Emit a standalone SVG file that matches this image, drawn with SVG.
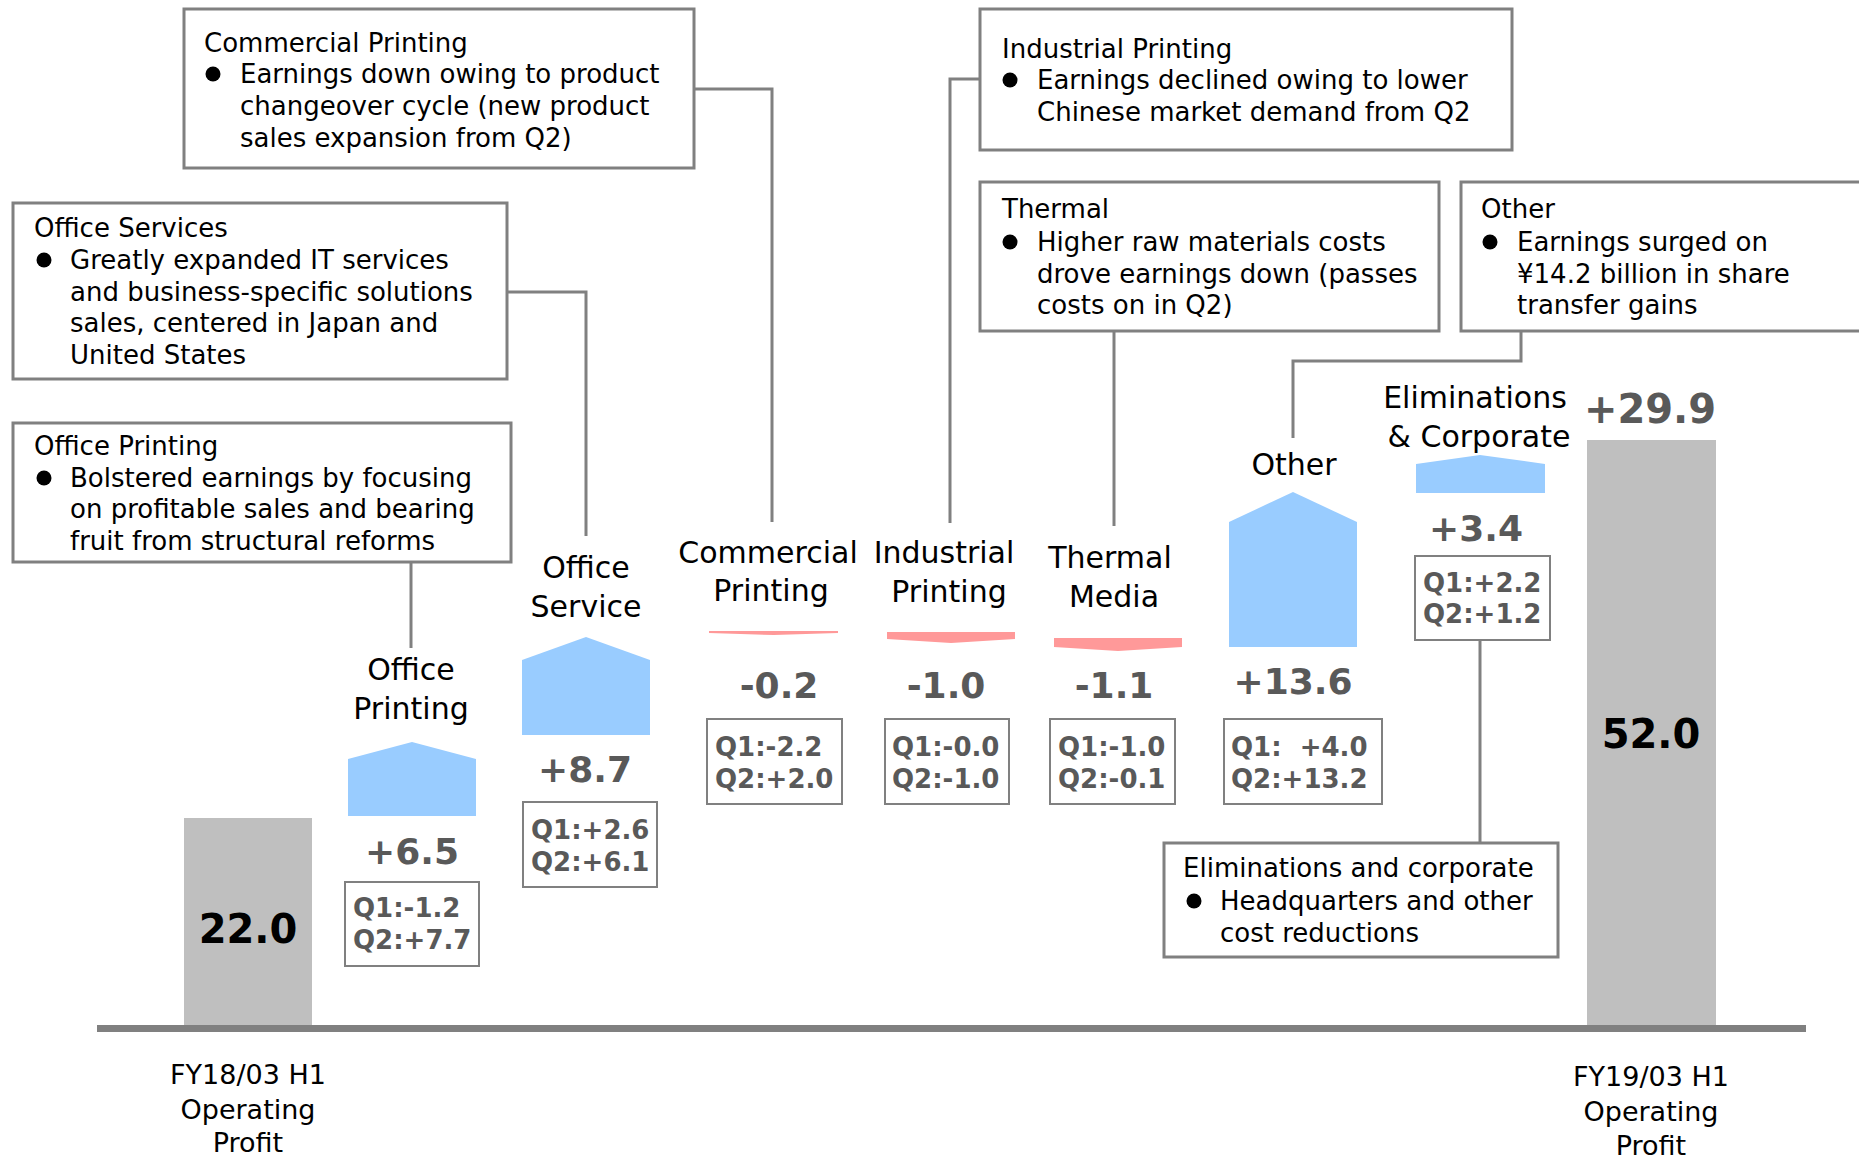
<svg xmlns="http://www.w3.org/2000/svg" width="1859" height="1158" viewBox="0 0 1859 1158">
<style>
.note{fill:#fff;stroke:#808080;stroke-width:3}
.qbox{fill:#fff;stroke:#808080;stroke-width:2}
.nt{font-family:"DejaVu Sans",Verdana,sans-serif;font-size:26px;fill:#000}
.cat{font-family:"DejaVu Sans",Verdana,sans-serif;font-size:30px;fill:#000;text-anchor:middle}
.val{font-family:"DejaVu Sans",Verdana,sans-serif;font-size:36px;font-weight:bold;fill:#595959;text-anchor:middle}
.big{font-family:"DejaVu Sans",Verdana,sans-serif;font-size:40px;font-weight:bold;fill:#000;text-anchor:middle}
.q{font-family:"DejaVu Sans",Verdana,sans-serif;font-size:26px;font-weight:bold;fill:#595959}
.ax{font-family:"DejaVu Sans",Verdana,sans-serif;font-size:27px;fill:#000;text-anchor:middle}
.up{fill:#99CCFF}
.down{fill:#FF9999}
.tot{fill:#BFBFBF}
.con{fill:none;stroke:#808080;stroke-width:3}
.bul{fill:#000}
</style>

<g id="connectors">
<polyline class="con" points="694,89 772,89 772,522"/>
<polyline class="con" points="507,292 586,292 586,536"/>
<polyline class="con" points="411,562 411,648"/>
<polyline class="con" points="980,79 950,79 950,523"/>
<polyline class="con" points="1114,331 1114,526"/>
<polyline class="con" points="1521,331 1521,361 1293,361 1293,438"/>
<polyline class="con" points="1480,640 1480,843"/>
</g>

<g id="axis">
<rect class="tot" x="184" y="818" width="128" height="214"/>
<rect class="tot" x="1587" y="440" width="129" height="588"/>
<rect x="97" y="1025" width="1709" height="7" fill="#808080"/>
</g>

<g id="fy18">
<text class="big" x="248" y="943">22.0</text>
<text class="ax" x="248" y="1084">FY18/03 H1</text>
<text class="ax" x="248" y="1119">Operating</text>
<text class="ax" x="248" y="1152">Profit</text>
</g>

<g id="office-printing">
<polygon class="up" points="348,759 412,742 476,759 476,816 348,816"/>
<text class="cat" x="411" y="680">Office</text>
<text class="cat" x="411" y="719">Printing</text>
<text class="val" x="412" y="864">+6.5</text>
<rect class="qbox" x="345" y="882" width="134" height="84"/>
<text class="q" x="353" y="917">Q1:-1.2</text>
<text class="q" x="353" y="949">Q2:+7.7</text>
</g>

<g id="office-service">
<polygon class="up" points="522,660 586,637 650,660 650,735 522,735"/>
<text class="cat" x="586" y="578">Office</text>
<text class="cat" x="586" y="617">Service</text>
<text class="val" x="585" y="782">+8.7</text>
<rect class="qbox" x="523" y="802" width="134" height="85"/>
<text class="q" x="531" y="839">Q1:+2.6</text>
<text class="q" x="531" y="871">Q2:+6.1</text>
</g>

<g id="commercial-printing">
<polygon class="down" points="709,631 838,631 838,633 774,635 709,633"/>
<text class="cat" x="768" y="563">Commercial</text>
<text class="cat" x="771" y="601">Printing</text>
<text class="val" x="779" y="698">-0.2</text>
<rect class="qbox" x="707" y="719" width="135" height="85"/>
<text class="q" x="715" y="756">Q1:-2.2</text>
<text class="q" x="715" y="788">Q2:+2.0</text>
</g>

<g id="industrial-printing">
<polygon class="down" points="887,632 1015,632 1015,639 951,643 887,639"/>
<text class="cat" x="944" y="563">Industrial</text>
<text class="cat" x="949" y="602">Printing</text>
<text class="val" x="946" y="698">-1.0</text>
<rect class="qbox" x="885" y="719" width="124" height="85"/>
<text class="q" x="892" y="756">Q1:-0.0</text>
<text class="q" x="892" y="788">Q2:-1.0</text>
</g>

<g id="thermal-media">
<polygon class="down" points="1054,638 1182,638 1182,647 1118,651 1054,647"/>
<text class="cat" x="1110" y="568">Thermal</text>
<text class="cat" x="1114" y="607">Media</text>
<text class="val" x="1114" y="698">-1.1</text>
<rect class="qbox" x="1050" y="719" width="125" height="85"/>
<text class="q" x="1058" y="756">Q1:-1.0</text>
<text class="q" x="1058" y="788">Q2:-0.1</text>
</g>

<g id="other">
<polygon class="up" points="1229,522 1293,492 1357,522 1357,647 1229,647"/>
<text class="cat" x="1294" y="475">Other</text>
<text class="val" x="1293" y="694">+13.6</text>
<rect class="qbox" x="1224" y="719" width="158" height="85"/>
<text class="q" x="1231" y="756" xml:space="preserve">Q1:  +4.0</text>
<text class="q" x="1231" y="788">Q2:+13.2</text>
</g>

<g id="eliminations">
<polygon class="up" points="1416,464 1480,455 1545,464 1545,493 1416,493"/>
<text class="cat" x="1475" y="408">Eliminations</text>
<text class="cat" x="1479" y="447">&amp; Corporate</text>
<text class="val" x="1476" y="541">+3.4</text>
<rect class="qbox" x="1415" y="556" width="135" height="84"/>
<text class="q" x="1423" y="592">Q1:+2.2</text>
<text class="q" x="1423" y="623">Q2:+1.2</text>
</g>

<g id="fy19">
<text class="big" x="1651" y="748">52.0</text>
<text class="val" x="1650" y="423" style="font-size:40px">+29.9</text>
<text class="ax" x="1651" y="1086">FY19/03 H1</text>
<text class="ax" x="1651" y="1121">Operating</text>
<text class="ax" x="1651" y="1155">Profit</text>
</g>

<g id="note-commercial">
<rect class="note" x="184" y="9" width="510" height="159"/>
<text class="nt" x="204" y="52">Commercial Printing</text>
<circle class="bul" cx="213" cy="74" r="7.5"/>
<text class="nt" x="240" y="83">Earnings down owing to product</text>
<text class="nt" x="240" y="115">changeover cycle (new product</text>
<text class="nt" x="240" y="147">sales expansion from Q2)</text>
</g>

<g id="note-office-services">
<rect class="note" x="13" y="203" width="494" height="176"/>
<text class="nt" x="34" y="237">Office Services</text>
<circle class="bul" cx="44" cy="260" r="7.5"/>
<text class="nt" x="70" y="269">Greatly expanded IT services</text>
<text class="nt" x="70" y="301">and business-specific solutions</text>
<text class="nt" x="70" y="332">sales, centered in Japan and</text>
<text class="nt" x="70" y="364">United States</text>
</g>

<g id="note-office-printing">
<rect class="note" x="13" y="423" width="498" height="139"/>
<text class="nt" x="34" y="455">Office Printing</text>
<circle class="bul" cx="44" cy="478" r="7.5"/>
<text class="nt" x="70" y="487">Bolstered earnings by focusing</text>
<text class="nt" x="70" y="518">on profitable sales and bearing</text>
<text class="nt" x="70" y="550">fruit from structural reforms</text>
</g>

<g id="note-industrial">
<rect class="note" x="980" y="9" width="532" height="141"/>
<text class="nt" x="1002" y="58">Industrial Printing</text>
<circle class="bul" cx="1010" cy="80" r="7.5"/>
<text class="nt" x="1037" y="89">Earnings declined owing to lower</text>
<text class="nt" x="1037" y="121">Chinese market demand from Q2</text>
</g>

<g id="note-thermal">
<rect class="note" x="980" y="182" width="459" height="149"/>
<text class="nt" x="1002" y="218">Thermal</text>
<circle class="bul" cx="1010" cy="242" r="7.5"/>
<text class="nt" x="1037" y="251">Higher raw materials costs</text>
<text class="nt" x="1037" y="283">drove earnings down (passes</text>
<text class="nt" x="1037" y="314">costs on in Q2)</text>
</g>

<g id="note-other">
<rect class="note" x="1461" y="182" width="420" height="149"/>
<text class="nt" x="1481" y="218">Other</text>
<circle class="bul" cx="1490" cy="242" r="7.5"/>
<text class="nt" x="1517" y="251">Earnings surged on</text>
<text class="nt" x="1517" y="283">¥14.2 billion in share</text>
<text class="nt" x="1517" y="314">transfer gains</text>
</g>

<g id="note-eliminations">
<rect class="note" x="1164" y="843" width="394" height="114"/>
<text class="nt" x="1183" y="877">Eliminations and corporate</text>
<circle class="bul" cx="1194" cy="901" r="7.5"/>
<text class="nt" x="1220" y="910">Headquarters and other</text>
<text class="nt" x="1220" y="942">cost reductions</text>
</g>
</svg>
